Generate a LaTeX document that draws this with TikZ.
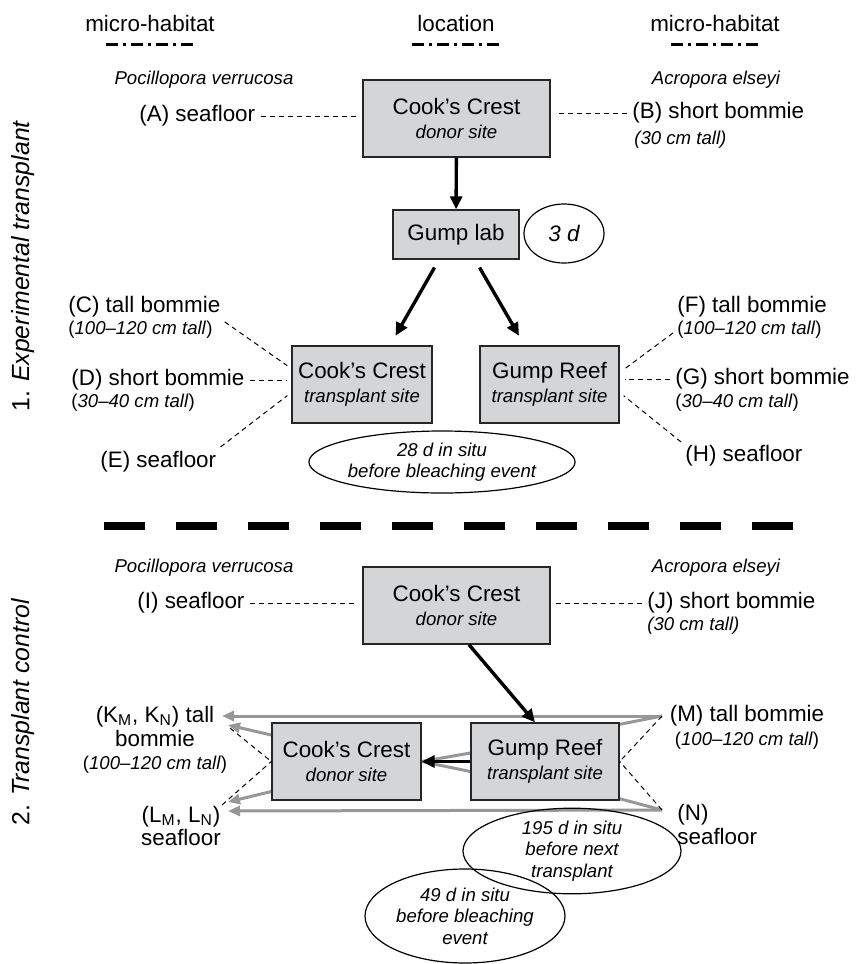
\documentclass[tikz,border=0pt]{standalone}
\usepackage{fontspec}
\setmainfont{Liberation Sans}
\usetikzlibrary{arrows.meta,shapes.geometric,backgrounds}

\definecolor{sitegray}{RGB}{212,213,215}
\definecolor{movegray}{RGB}{150,151,153}
\newcommand{\mainsz}{\fontsize{11.2}{11.8}\selectfont}
\newcommand{\subsz}{\fontsize{9.3}{10.8}\selectfont}
\newcommand{\sidesz}{\fontsize{12.4}{14}\selectfont}

\begin{document}
\begin{tikzpicture}[x=0.5pt, y=-0.5pt,  % one unit = one pixel of the figure
    site/.style={draw=black!85, line width=0.7pt, fill=sitegray, align=center,
      font=\mainsz, inner sep=0pt, minimum height=38.5pt},
    lbl/.style={font=\mainsz, inner sep=0pt, anchor=west},
    sublbl/.style={font=\subsz, inner sep=0pt, anchor=west},
    species/.style={font=\subsz\itshape, inner sep=0pt},
    note/.style={draw, ellipse, line width=0.6pt, align=center,
      font=\subsz\itshape, inner sep=0pt},
    tie/.style={dash pattern=on 2.5pt off 2pt, line width=0.5pt,
      shorten <=2.5pt, shorten >=2.5pt},
    move/.style={line width=1.7pt, -{Triangle[length=6.5pt,width=6pt]}},
    graymove/.style={movegray, line width=1.5pt, line join=round,
      -{Triangle[length=6pt,width=5pt]}},
    hdash/.style={line width=1.5pt, dash pattern=on 6pt off 2.5pt on 1.5pt off 2.5pt},
    split/.style={line width=4pt, dash pattern=on 20.5pt off 15.5pt}]
  \useasboundingbox (0,0) rectangle (864,964);

  % Column headers
  \node[font=\mainsz] (hL) at (150,23) {micro-habitat};
  \node[font=\mainsz] (hM) at (456,23) {location};
  \node[font=\mainsz] (hR) at (715,23) {micro-habitat};
  \foreach \h in {hL,hM,hR} {
    \coordinate (\h-d) at (\h |- 0,44);
    \draw[hdash] ([xshift=-22pt]\h-d) -- ([xshift=22pt]\h-d);
  }

  % Side titles
  \node[font=\sidesz, rotate=90] (secA) at (23,266) {1. \textit{Experimental transplant}};
  \node[font=\sidesz, rotate=90] (secB) at (23,712) {2. \textit{Transplant control}};

  % ---- 1. Experimental transplant ----
  \node[species] (spL1) at (204,80) {Pocillopora verrucosa};
  \node[species] (spR1) at (716,80) {Acropora elseyi};
  \node[site, minimum width=93.5pt] (donorA) at (456.5,118.5)
    {Cook's Crest\\{\subsz\itshape donor site}};
  \node[lbl] (labA) at (139,116) {(A) seafloor};
  \node[lbl] (labB) at (632,113) {(B) short bommie};
  \node[sublbl] (labBs) at (634,140) {\textit{(30 cm tall)}};
  \draw[tie] (labA.east) -- (labA.east -| donorA.west);
  \draw[tie] (labB.west) -- (labB.west -| donorA.east);

  % Gump lab
  \node[site, minimum width=63pt, minimum height=24.5pt] (lab) at (456,234.5) {Gump lab};
  \node[note, font=\mainsz\itshape, minimum width=40pt, minimum height=29.5pt]
    (stay3) at (564,233.5) {3 d};
  \draw[move] (donorA) -- (lab);

  % Transplant sites
  \node[site, minimum width=70pt] (ccT) at (362,384.5)
    {Cook's Crest\\{\subsz\itshape transplant site}};
  \node[site, minimum width=69.5pt] (grT) at (549.5,384.5)
    {Gump Reef\\{\subsz\itshape transplant site}};
  \draw[move, shorten <=4.5pt, shorten >=5.5pt] ([xshift=-8.5pt]lab.south) -- ([xshift=14pt]ccT.north);
  \draw[move, shorten <=4.5pt, shorten >=5.5pt] ([xshift=9.5pt]lab.south) -- ([xshift=-12.5pt]grT.north);

  % micro-habitats at Cook's Crest
  \node[lbl] (labC) at (68,307) {(C) tall bommie};
  \node[sublbl] (labCs) at (68,330) {(\textit{100--120 cm tall})};
  \node[lbl] (labD) at (71,380) {(D) short bommie};
  \node[sublbl] (labDs) at (71,403) {(\textit{30--40 cm tall})};
  \node[lbl] (labE) at (100,462) {(E) seafloor};
  \draw[tie] ([yshift=-6pt]labC.east) -- ([yshift=8pt]ccT.west);
  \draw[tie] (labD.east) -- (labD.east -| ccT.west);
  \draw[tie] ([yshift=6pt]labE.east) -- ([yshift=-4pt]ccT.west);

  % micro-habitats at Gump Reef
  \node[lbl] (labF) at (677,307) {(F) tall bommie};
  \node[sublbl] (labFs) at (677,330) {(\textit{100--120 cm tall})};
  \node[lbl] (labG) at (675,379) {(G) short bommie};
  \node[sublbl] (labGs) at (675,403) {(\textit{30--40 cm tall})};
  \node[lbl] (labH) at (685,456) {(H) seafloor};
  \draw[tie] (labFs.west) -- ([yshift=6pt]grT.east);
  \draw[tie] (labG.west) -- (labG.west -| grT.east);
  \draw[tie] (labH.north west) -- ([yshift=-4pt]grT.east);

  \node[note, minimum width=123pt, minimum height=31pt] (stay28) at (442,462)
    {28 d in situ\\before bleaching event};

  % Separator
  \draw[split] (104,526) -- (795,526);

  % ---- 2. Transplant control ----
  \node[species] (spL2) at (204,568) {Pocillopora verrucosa};
  \node[species] (spR2) at (716,568) {Acropora elseyi};
  \node[site, minimum width=93.5pt] (donorB) at (456.5,605.5)
    {Cook's Crest\\{\subsz\itshape donor site}};
  \node[lbl] (labI) at (137,603) {(I) seafloor};
  \node[lbl] (labJ) at (647,603) {(J) short bommie};
  \node[sublbl] (labJs) at (647,626) {\textit{(30 cm tall)}};
  \draw[tie] (labI.east) -- (labI.east -| donorB.west);
  \draw[tie] (labJ.west) -- (labJ.west -| donorB.east);

  \node[site, minimum width=74.5pt] (ccC) at (346.5,761.5)
    {Cook's Crest\\{\subsz\itshape donor site}};
  \node[site, minimum width=74pt] (grC) at (545,761.5)
    {Gump Reef\\{\subsz\itshape transplant site}};

  \node[font=\mainsz, align=center, inner sep=0pt] (labK) at (155,740)
    {(K\textsubscript{M}, K\textsubscript{N}) tall\\bommie\\{\subsz(\textit{100--120 cm tall})}};
  \node[font=\mainsz, align=center, inner sep=0pt] (labL) at (181,826)
    {(L\textsubscript{M}, L\textsubscript{N})\\seafloor};
  \node[font=\mainsz, align=center, inner sep=0pt] (labM) at (747,727.5)
    {(M) tall bommie\\{\subsz(\textit{100--120 cm tall})}};
  \node[font=\mainsz, align=left, inner sep=0pt, anchor=west] (labN) at (677,824.5)
    {(N)\\seafloor};

  % ends of the swaps
  \coordinate (mOut) at (662,716);
  \coordinate (nOut) at (662,810);
  \coordinate (kIn) at (222,716);
  \coordinate (lIn) at (228,811);
  \coordinate (kTip) at (228,725);
  \coordinate (lTip) at (228,802);
  \coordinate (kTie) at (230,728);
  \coordinate (lTie) at (222,805);

  % grey swaps run behind the boxes
  \begin{scope}[on background layer]
    \draw[graymove] (mOut) -- (kIn);
    \draw[graymove] (nOut) -- (lIn);
    \draw[graymove] (mOut) -- ([yshift=-1pt]grC.north east) -- ([yshift=4.25pt]grC.west)
      -- (ccC.east) -- ([yshift=-15pt]ccC.west) -- (lTip);
    \draw[graymove] (nOut) -- ([yshift=1pt]grC.south east) -- ([yshift=-5pt]grC.west)
      -- (ccC.east) -- ([yshift=13.25pt]ccC.west) -- (kTip);
  \end{scope}

  \draw[move] ([xshift=6.25pt]donorB.south) -- ([xshift=-5pt]grC.north);
  \draw[move] (grC.west) -- (ccC.east);
  \draw[tie, shorten <=0pt, shorten >=0pt] (mOut) -- (grC.east);
  \draw[tie, shorten <=0pt, shorten >=0pt] (nOut) -- (grC.east);
  \draw[tie, shorten <=0pt, shorten >=0pt] (kTie) -- (ccC.west);
  \draw[tie, shorten <=0pt, shorten >=0pt] (lTie) -- (ccC.west);

  \node[note, minimum width=109pt, minimum height=39pt] (stay195) at (572,851)
    {195 d in situ\\before next\\transplant};
  \node[note, minimum width=100pt, minimum height=47pt] (stay49) at (465,916)
    {49 d in situ\\before bleaching\\event};
\end{tikzpicture}
\end{document}
